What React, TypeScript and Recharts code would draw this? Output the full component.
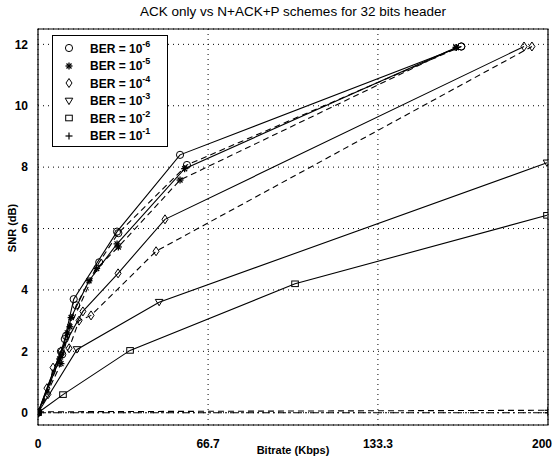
import React from 'react'
import { LineChart, Line, XAxis, YAxis, CartesianGrid, ReferenceArea } from 'recharts'

// axis ticks
const X_TICKS = [0, 66.7, 133.3, 200]
const Y_TICKS = [0, 2, 4, 6, 8, 10, 12]

// BER = 1e-6 (circles)
const ber6AckX = [0, 9, 10.5, 14, 31, 55.7, 166]
const ber6AckY = [0, 2.0, 2.4, 3.7, 5.9, 8.4, 11.93]
const ber6NapX = [0, 9.5, 11, 15, 24, 31.5, 58.4, 166]
const ber6NapY = [0, 1.9, 2.5, 3.5, 4.9, 5.85, 8.07, 11.93]

// BER = 1e-5 (stars)
const ber5AckX = [0, 8.5, 11.5, 13, 20, 31, 57.5, 164]
const ber5AckY = [0, 1.75, 2.6, 3.1, 4.3, 5.5, 7.95, 11.9]
const ber5NapX = [0, 9, 12.5, 23, 31.5, 55.7, 164]
const ber5NapY = [0, 1.6, 2.8, 4.7, 5.4, 7.58, 11.9]

// BER = 1e-4 (diamonds)
const ber4AckX = [0, 3.5, 9, 17.6, 31.4, 49.8, 190.6]
const ber4AckY = [0, 0.8, 2.0, 3.3, 4.54, 6.3, 11.93]
const ber4NapX = [0, 3.9, 5.9, 12.2, 16.1, 20.8, 46.3, 193.7]
const ber4NapY = [0, 0.6, 1.47, 2.1, 3.0, 3.17, 5.26, 11.93]

// BER = 1e-3 (triangles)
const ber3AckX = [0, 15.3, 47.5, 199.6]
const ber3AckY = [0, 2.06, 3.6, 8.14]

// BER = 1e-2 (squares)
const ber2AckX = [0, 9.8, 36.1, 100.8, 199.6]
const ber2AckY = [0, 0.59, 2.03, 4.2, 6.43]

// BER = 1e-1 (plus)
const ber1AckX = [0, 200]
const ber1AckY = [0, 0]
const ber1NapX = [0, 200]
const ber1NapY = [0.03, 0.08]

const LEGEND_EXP = ['-6', '-5', '-4', '-3', '-2', '-1']
const LEGEND_SHAPES = ['circle', 'star', 'diamond', 'triangle', 'square', 'plus']

const zip = (xs: number[], ys: number[]) => xs.map((x, i) => ({ x, y: ys[i] }))

const SERIES = [
  { id: 'b6a', data: zip(ber6AckX, ber6AckY), shape: 'circle', dash: undefined },
  { id: 'b6n', data: zip(ber6NapX, ber6NapY), shape: 'circle', dash: '6 4' },
  { id: 'b5a', data: zip(ber5AckX, ber5AckY), shape: 'star', dash: undefined },
  { id: 'b5n', data: zip(ber5NapX, ber5NapY), shape: 'star', dash: '6 4' },
  { id: 'b4a', data: zip(ber4AckX, ber4AckY), shape: 'diamond', dash: undefined },
  { id: 'b4n', data: zip(ber4NapX, ber4NapY), shape: 'diamond', dash: '6 4' },
  { id: 'b3a', data: zip(ber3AckX, ber3AckY), shape: 'triangle', dash: undefined },
  { id: 'b2a', data: zip(ber2AckX, ber2AckY), shape: 'square', dash: undefined },
  { id: 'b1a', data: zip(ber1AckX, ber1AckY), shape: 'plus', dash: '8 3 2 3' },
  { id: 'b1n', data: zip(ber1NapX, ber1NapY), shape: 'plus', dash: '6 4' },
]

const FONT = '"Liberation Sans", Arial, Helvetica, sans-serif'

function Marker({ cx, cy, shape }: { cx: number; cy: number; shape: string }) {
  const s = { stroke: '#000', strokeWidth: 1, fill: 'none' }
  switch (shape) {
    case 'circle':
      return <circle cx={cx} cy={cy} r={3.6} {...s} />
    case 'star':
      return (
        <g stroke="#000" strokeWidth={1.3}>
          <line x1={cx - 3.5} y1={cy} x2={cx + 3.5} y2={cy} />
          <line x1={cx} y1={cy - 3.5} x2={cx} y2={cy + 3.5} />
          <line x1={cx - 2.5} y1={cy - 2.5} x2={cx + 2.5} y2={cy + 2.5} />
          <line x1={cx - 2.5} y1={cy + 2.5} x2={cx + 2.5} y2={cy - 2.5} />
        </g>
      )
    case 'diamond':
      return <polygon points={`${cx},${cy - 4.5} ${cx + 3},${cy} ${cx},${cy + 4.5} ${cx - 3},${cy}`} {...s} />
    case 'triangle':
      return <polygon points={`${cx - 3.8},${cy - 2.8} ${cx + 3.8},${cy - 2.8} ${cx},${cy + 3.6}`} {...s} />
    case 'square':
      return <rect x={cx - 3.3} y={cy - 2.8} width={6.6} height={5.6} {...s} />
    default:
      return (
        <g stroke="#000" strokeWidth={1.2}>
          <line x1={cx - 3.5} y1={cy} x2={cx + 3.5} y2={cy} />
          <line x1={cx} y1={cy - 3.5} x2={cx} y2={cy + 3.5} />
        </g>
      )
  }
}

const makeDot = (shape: string) => (p: any) => (
  <Marker key={`${shape}-${p.index}`} cx={p.cx} cy={p.cy} shape={shape} />
)

const tickStyle = { fontSize: 12, fontWeight: 700, fill: '#000', fontFamily: FONT }

// x tick: keep the last label ("200") inside the window like the original
function XTick({ x, y, payload }: any) {
  const last = payload.value === 200
  return (
    <text x={last ? x + 8 : x} y={y} dy={11} textAnchor={last ? 'end' : 'middle'} {...tickStyle}>
      {String(payload.value)}
    </text>
  )
}

export default function App() {
  return (
    <div style={{ position: 'fixed', left: 0, top: 0, width: 556, height: 460, background: '#fff', fontFamily: FONT }}>
      <LineChart width={556} height={460} margin={{ top: 29, right: 8, bottom: 0, left: 8 }}>
        <CartesianGrid stroke="#000" strokeDasharray="1 4" strokeWidth={1} />
        <XAxis
          type="number"
          dataKey="x"
          domain={[0, 200]}
          ticks={X_TICKS}
          tick={<XTick />}
          axisLine={false}
          tickLine={false}
          tickMargin={6}
          height={35}
          allowDataOverflow
        />
        <YAxis
          type="number"
          dataKey="y"
          domain={[-0.4, 12.5]}
          ticks={Y_TICKS}
          tick={tickStyle}
          axisLine={false}
          tickLine={false}
          tickMargin={4}
          width={30}
          allowDataOverflow
        />
        <ReferenceArea x1={0} x2={200} y1={-0.4} y2={12.5} fill="none" stroke="#000" strokeWidth={1.2} fillOpacity={0} />
        {SERIES.map((s) => (
          <Line
            key={s.id}
            data={s.data}
            dataKey="y"
            type="linear"
            stroke="#000"
            strokeWidth={1.1}
            strokeDasharray={s.dash}
            dot={makeDot(s.shape)}
            activeDot={false}
            isAnimationActive={false}
          />
        ))}
      </LineChart>

      {/* title */}
      <div style={{ position: 'absolute', left: 38, width: 510, top: 4, textAlign: 'center', fontSize: 13.5, color: '#000' }}>
        ACK only vs N+ACK+P schemes for 32 bits header
      </div>
      {/* x label */}
      <div style={{ position: 'absolute', left: 38, width: 510, top: 444, textAlign: 'center', fontSize: 11, fontWeight: 700 }}>
        Bitrate (Kbps)
      </div>
      {/* y label */}
      <div
        style={{
          position: 'absolute', left: -38, top: 222, width: 100, textAlign: 'center',
          fontSize: 11, fontWeight: 700, transform: 'rotate(-90deg)',
        }}
      >
        SNR (dB)
      </div>

      {/* legend */}
      <div style={{ position: 'absolute', left: 52, top: 35, width: 114, height: 110, border: '1px solid #000', background: '#fff' }}>
        {LEGEND_EXP.map((e, i) => (
          <div key={e} style={{ position: 'absolute', left: 0, top: 3 + i * 17.5, height: 17, width: 114, display: 'flex', alignItems: 'center' }}>
            <svg width={30} height={17} style={{ flexShrink: 0 }}>
              <Marker cx={16} cy={9} shape={LEGEND_SHAPES[i]} />
            </svg>
            <span style={{ marginLeft: 7, fontSize: 12, fontWeight: 700, whiteSpace: 'nowrap' }}>
              BER = 10<sup style={{ fontSize: 9, position: 'relative', top: -1 }}>{e}</sup>
            </span>
          </div>
        ))}
      </div>
    </div>
  )
}
